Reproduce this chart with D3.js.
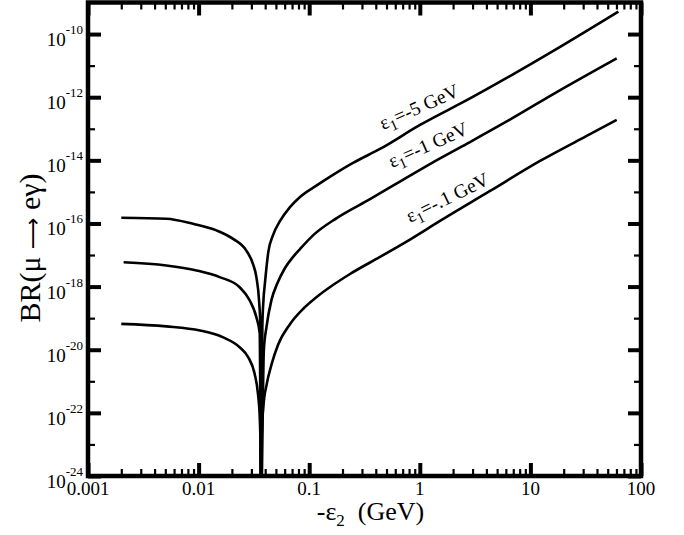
<!DOCTYPE html>
<html>
<head>
<meta charset="utf-8">
<script src="https://cdn.jsdelivr.net/npm/d3@7"></script>
<style>
    body { margin: 0; background: #fff; }
    svg { font-family: "Liberation Serif", "Times New Roman", serif; }
    .curve { fill: none; stroke: #000; stroke-width: 2.6; stroke-linejoin: round; }
    .tick line { stroke: #000; }
    .domain { display: none; }
</style>
</head>
<body>
<div id="chart"></div>
<script>
    // tick values
    var xMajor = [0.001, 0.01, 0.1, 1, 10, 100];
    var xMajorLabels = ["0.001", "0.01", "0.1", "1", "10", "100"];
    var yMajorExp = [-24, -22, -20, -18, -16, -14, -12, -10];
    var yMinorExp = [-23, -21, -19, -17, -15, -13, -11];

    // curve labels
    var curveNames = ["-5 GeV", "-1 GeV", "-.1 GeV"];

    // eps1 = -5 GeV
    var eps2A = [0.002, 0.0051, 0.0089, 0.0145, 0.0205, 0.027, 0.031, 0.0333, 0.0352, 0.0362, 0.0367,
                 0.0377, 0.0386, 0.0398, 0.0427, 0.0471, 0.0545, 0.067, 0.0826, 0.1151, 0.1641, 0.2489,
                 0.4365, 1.005, 2.844, 6.107, 17.3, 62.4];
    var brA = [1.51e-16, 1.41e-16, 9.77e-17, 6.03e-17, 3.24e-17, 1.38e-17, 5.25e-18, 2.0e-18, 3.63e-19, 5.13e-20, 1e-25,
               5.25e-20, 3.80e-19, 1.29e-18, 1.26e-17, 4.27e-17, 1.20e-16, 3.31e-16, 6.92e-16, 1.55e-15, 3.47e-15, 8.32e-15,
               2.29e-14, 1.32e-13, 9.12e-13, 4.07e-12, 3.39e-11, 5.13e-10];

    // eps1 = -1 GeV
    var eps2B = [0.0021, 0.0051, 0.0096, 0.0155, 0.0235, 0.029, 0.0333, 0.0357, 0.0367,
                 0.0389, 0.0411, 0.0456, 0.0512, 0.0604, 0.0718, 0.0826, 0.1089, 0.1774, 0.3548, 0.7096,
                 1.523, 2.844, 6.107, 17.3, 60.3];
    var brB = [5.89e-18, 4.68e-18, 3.24e-18, 2.0e-18, 9.55e-19, 3.63e-19, 1.07e-19, 3.31e-20, 1e-25,
               9.77e-21, 5.25e-20, 3.80e-19, 1.20e-18, 3.89e-18, 8.91e-18, 1.55e-17, 4.27e-17, 1.48e-16, 5.89e-16, 2.45e-15,
               1.15e-14, 3.80e-14, 1.70e-13, 1.45e-12, 1.70e-11];

    // eps1 = -.1 GeV
    var eps2C = [0.002, 0.0051, 0.0103, 0.0165, 0.0235, 0.028, 0.0321, 0.0344, 0.0357, 0.0362, 0.0367,
                 0.0373, 0.0385, 0.0413, 0.0458, 0.0522, 0.067, 0.0879, 0.1169, 0.1641, 0.2339, 0.4365,
                 0.8147, 1.523, 4.315, 12.22, 34.59, 60.3];
    var brC = [6.61e-20, 5.50e-20, 4.07e-20, 2.51e-20, 1.20e-20, 5.89e-21, 1.74e-21, 4.07e-22, 7.41e-23, 1.35e-23, 1e-25,
               2.29e-23, 1.55e-22, 8.13e-22, 3.55e-21, 1.41e-20, 6.46e-20, 1.95e-19, 4.68e-19, 1.12e-18, 2.51e-18, 8.71e-18,
               3.09e-17, 1.20e-16, 1.07e-15, 9.55e-15, 6.76e-14, 1.91e-13];

    var width = 684, height = 535;
    // plot box (window.top is reserved, so prefixed names)
    var pLeft = 88, pRight = 641, pTop = 2.5, pBottom = 476;

    var x = d3.scaleLog().domain([0.001, 100]).range([pLeft, pRight]);
    var y = d3.scaleLog().domain([1e-24, 1e-9]).range([pBottom, pTop]);

    var xMinor = [];
    xMajor.slice(0, -1).forEach(function(d) {
        for (var k = 2; k <= 9; k++) xMinor.push(d * k);
    });

    var svg = d3.select("#chart").append("svg")
        .attr("width", width)
        .attr("height", height);

    svg.append("defs").append("clipPath").attr("id", "plotclip")
        .append("rect").attr("x", pLeft).attr("y", pTop)
        .attr("width", pRight - pLeft).attr("height", pBottom - pTop);

    // ticks, all pointing inward
    function drawTicks(axis, tr, vals, size, sw) {
        var g = svg.append("g").attr("transform", tr)
            .call(axis.tickValues(vals).tickSize(size).tickSizeOuter(0).tickFormat(""));
        g.selectAll(".tick line").attr("stroke-width", sw);
        return g;
    }
    var yMaj = yMajorExp.map(function(e) { return Math.pow(10, e); });
    var yMin = yMinorExp.map(function(e) { return Math.pow(10, e); });

    drawTicks(d3.axisBottom(x), "translate(0," + pBottom + ")", xMajor, -13, 4);
    drawTicks(d3.axisBottom(x), "translate(0," + pBottom + ")", xMinor, -7, 2.2);
    drawTicks(d3.axisTop(x), "translate(0," + pTop + ")", xMajor, -13, 4);
    drawTicks(d3.axisTop(x), "translate(0," + pTop + ")", xMinor, -7, 2.2);
    drawTicks(d3.axisLeft(y), "translate(" + pLeft + ",0)", yMaj, -13, 4);
    drawTicks(d3.axisLeft(y), "translate(" + pLeft + ",0)", yMin, -7, 2.2);
    drawTicks(d3.axisRight(y), "translate(" + pRight + ",0)", yMaj, -13, 4);
    drawTicks(d3.axisRight(y), "translate(" + pRight + ",0)", yMin, -7, 2.2);

    // frame
    svg.append("rect")
        .attr("x", pLeft).attr("y", pTop)
        .attr("width", pRight - pLeft).attr("height", pBottom - pTop)
        .attr("fill", "none").attr("stroke", "#000").attr("stroke-width", 4.5);

    // x tick labels
    svg.append("g").selectAll("text")
        .data(xMajor)
        .enter().append("text")
        .attr("x", function(d) { return x(d); })
        .attr("y", pBottom + 19)
        .attr("text-anchor", "middle")
        .attr("font-size", 19)
        .text(function(d, i) { return xMajorLabels[i]; });

    // y tick labels 10^n
    var yl = svg.append("g").selectAll("text")
        .data(yMajorExp)
        .enter().append("text")
        .attr("x", pLeft - 5)
        .attr("y", function(d) { return y(Math.pow(10, d)); })
        .attr("text-anchor", "end");
    yl.append("tspan").attr("dy", 12).attr("font-size", 19).text("10");
    yl.append("tspan").attr("dy", -12).attr("font-size", 13).text(function(d) { return "" + d; });

    // curves
    var line = d3.line()
        .x(function(d) { return x(d[0]); })
        .y(function(d) { return y(d[1]); })
        .curve(d3.curveMonotoneX);

    var series = [d3.zip(eps2A, brA), d3.zip(eps2B, brB), d3.zip(eps2C, brC)];
    svg.append("g").attr("clip-path", "url(#plotclip)")
        .selectAll("path")
        .data(series)
        .enter().append("path")
        .attr("class", "curve")
        .attr("d", line);

    // curve labels
    var labelPos = [[383, 130, -24], [392, 168, -24], [410, 223, -26]];
    var cl = svg.append("g").selectAll("text")
        .data(curveNames)
        .enter().append("text")
        .attr("font-size", 19.5)
        .attr("transform", function(d, i) {
            return "translate(" + labelPos[i][0] + "," + labelPos[i][1] + ") rotate(" + labelPos[i][2] + ")";
        });
    cl.append("tspan").text("\u03b5");
    cl.append("tspan").attr("dy", 5).attr("font-size", 15).text("1");
    cl.append("tspan").attr("dy", -5).text(function(d) { return "=" + d; });

    // axis titles
    var xt = svg.append("text")
        .attr("x", (pLeft + pRight) / 2 + 6)
        .attr("y", 520)
        .attr("text-anchor", "middle")
        .attr("font-size", 26);
    xt.append("tspan").text("-\u03b5");
    xt.append("tspan").attr("dy", 6).attr("font-size", 17).text("2");
    xt.append("tspan").attr("dy", -6).attr("xml:space", "preserve").text("  (GeV)");

    var yt = svg.append("text")
        .attr("transform", "translate(40," + 248 + ") rotate(-90)")
        .attr("text-anchor", "middle")
        .attr("font-size", 30)
        .attr("xml:space", "preserve");
    yt.append("tspan").text("BR(\u03bc ");
    yt.append("tspan").attr("font-family", "DejaVu Sans").attr("font-size", 22).text("\u27f6");
    yt.append("tspan").text(" e\u03b3)");
</script>
</body>
</html>
